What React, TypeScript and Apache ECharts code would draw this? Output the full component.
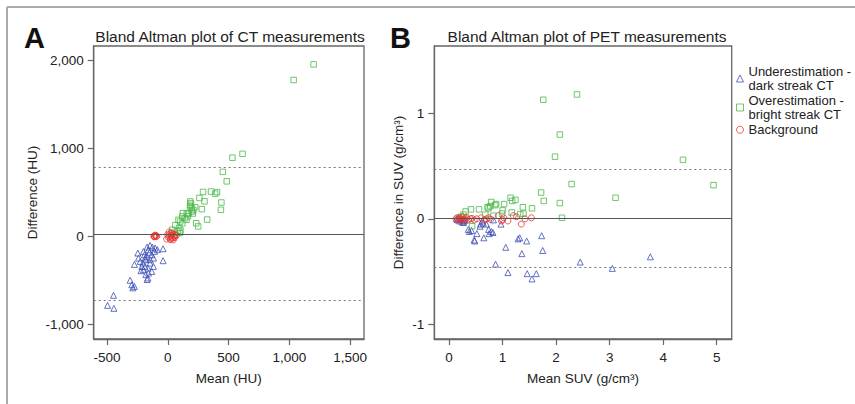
import React, { useEffect, useRef } from "react";
import * as echarts from "echarts";

// ---- Panel A: CT measurements (Mean HU, Difference HU)
const ctUnder: number[][] = [
  [-496, -784], [-447, -670], [-444, -818], [-310, -498], [-296, -549], [-275, -568], [-288, -585],
  [-275, -318], [-247, -189], [-201, -172], [-192, -208], [-181, -265], [-227, -284], [-214, -341],
  [-187, -341], [-164, -360], [-201, -379], [-181, -435], [-164, -473], [-170, -490], [-118, -341],
  [-146, -303], [-160, -151], [-146, -102], [-127, -121], [-104, -132], [-86, -151], [-39, -140],
  [-39, -276], [-118, -246], [-132, -208], [-173, -227], [-186, -246], [-145, -265], [-159, -417],
  [-132, -398], [-221, -390], [-205, -303], [-241, -246], [-150, -180], [-110, -170], [-170, -120],
];
const ctOver: number[][] = [
  [1200, 1958], [1036, 1780], [615, 940], [532, 896], [453, 735], [485, 627], [356, 511], [405, 504],
  [390, 487], [290, 506], [260, 438], [302, 400], [280, 311], [441, 386], [437, 303], [324, 192],
  [234, 150], [250, 114], [185, 398], [190, 379], [183, 341], [198, 322], [173, 265], [206, 261],
  [156, 258], [124, 265], [119, 227], [101, 170], [104, 68], [93, 95], [62, 128], [38, 76],
  [153, 189], [225, 333], [197, 284], [88, 189], [142, 208], [100, 40], [60, 20], [30, 40],
  [185, 360], [210, 300], [165, 230], [120, 150], [80, 60],
];
const ctBg: number[][] = [
  [-115, 5], [-108, 0], [-100, 10], [-95, -3], [-105, 15], [-90, 5], [-112, -5], [10, 50], [20, 30],
  [30, 10], [40, -20], [50, 0], [60, 20], [25, -30], [5, -10], [15, 0], [35, 40], [45, -40],
  [-10, -30], [70, 10], [55, -15], [0, 20], [30, -10], [20, -35], [40, 25],
];
const ctMean = 27;
const ctLimits = [784, -731];
const ctXTicks = [-500, 0, 500, 1000, 1500];
const ctYTicks = [-1000, 0, 1000, 2000];

// ---- Panel B: PET measurements (Mean SUV, Difference SUV)
const petUnder: number[][] = [
  [0.14, 0.0], [0.16, -0.01], [0.2, -0.02], [0.22, 0.0], [0.25, -0.03], [0.27, -0.035], [0.28, -0.02],
  [0.3, -0.01], [0.36, -0.1], [0.42, -0.11], [0.38, -0.12], [0.47, -0.2], [0.48, -0.21], [0.52, -0.14],
  [0.58, -0.07], [0.62, -0.02], [0.64, -0.04], [0.59, -0.05], [0.65, -0.18], [0.7, -0.05], [0.74, -0.1],
  [0.75, -0.14], [0.79, -0.12], [0.82, -0.13], [0.83, -0.01], [0.97, -0.05], [0.87, -0.43], [1.06, -0.27],
  [1.1, -0.51], [1.29, -0.19], [1.32, -0.18], [1.36, -0.33], [1.45, -0.21], [1.46, -0.52], [1.55, -0.57],
  [1.63, -0.52], [1.73, -0.16], [1.75, -0.3], [2.45, -0.41], [3.05, -0.47], [3.76, -0.36],
];
const petOver: number[][] = [
  [1.76, 1.13], [2.39, 1.18], [2.07, 0.8], [1.98, 0.59], [4.37, 0.56], [4.94, 0.32], [2.29, 0.33],
  [3.11, 0.2], [1.72, 0.25], [1.77, 0.17], [2.07, 0.15], [2.11, 0.01], [1.15, 0.2], [1.24, 0.18],
  [1.18, 0.17], [1.55, 0.1], [1.38, 0.11], [1.39, 0.05], [1.17, 0.06], [1.03, 0.14], [0.88, 0.14],
  [0.86, 0.13], [0.79, 0.16], [0.77, 0.12], [0.74, 0.1], [1.0, 0.08], [0.99, 0.05], [0.56, 0.09],
  [0.41, 0.09], [0.31, 0.07], [0.27, 0.04], [0.68, 0.04], [0.83, 0.03], [0.43, -0.07], [1.33, 0.045],
  [0.72, 0.11], [0.22, 0.02],
];
const petBg: number[][] = [
  [0.13, 0.0], [0.15, 0.01], [0.17, -0.005], [0.19, 0.0], [0.2, 0.01], [0.22, -0.01], [0.24, 0.0],
  [0.25, 0.02], [0.27, -0.01], [0.3, 0.0], [0.33, 0.01], [0.36, -0.01], [0.4, 0.0], [0.43, 0.005],
  [0.47, -0.01], [0.52, 0.0], [0.6, 0.01], [0.66, -0.01], [0.7, 0.0], [0.74, 0.01], [0.78, -0.005],
  [0.92, 0.03], [1.0, -0.01], [1.02, 0.01], [1.1, -0.02], [1.2, 0.03], [1.26, 0.02], [1.35, -0.05],
  [1.42, 0.0], [1.54, 0.01], [0.98, -0.02],
];
const petMean = 0.006;
const petLimits = [0.47, -0.462];
const petXTicks = [0, 1, 2, 3, 4, 5];
const petYTicks = [-1, 0, 1];

const seriesNames = [
  "Underestimation -\ndark streak CT",
  "Overestimation -\nbright streak CT",
  "Background",
];

const FONT = "'Liberation Sans', Arial, Helvetica, sans-serif";
const BLUE = "#3d4fb5";
const GREEN = "#4cb84a";
const RED = "#e8332e";
const AXIS = "#666";
const TXT = "#222";

const fmt = (v: number) => v.toLocaleString("en-US");

export default function App() {
  const ref = useRef<HTMLDivElement>(null);
  useEffect(() => {
    if (!ref.current) return;
    const chart = echarts.init(ref.current, undefined, { renderer: "svg" });

    const mkX = (grid: number, min: number, max: number, ticks: number[], name: string, format: boolean) => ({
      type: "value",
      gridIndex: grid,
      min,
      max,
      name,
      nameLocation: "middle",
      nameGap: 32,
      nameTextStyle: { fontFamily: FONT, fontSize: 13.5, color: TXT },
      axisLine: { show: true, onZero: false, lineStyle: { color: AXIS, width: 1.3 } },
      axisTick: { show: true, length: 6, customValues: ticks, lineStyle: { color: AXIS, width: 1.2 } },
      axisLabel: {
        customValues: ticks,
        margin: 11,
        fontFamily: FONT,
        fontSize: 13.5,
        color: TXT,
        formatter: (v: number) => (format ? fmt(v) : String(v)),
      },
      splitLine: { show: false },
    });
    const mkY = (grid: number, min: number, max: number, ticks: number[], name: string, gap: number, format: boolean) => ({
      type: "value",
      gridIndex: grid,
      min,
      max,
      name,
      nameLocation: "middle",
      nameGap: gap,
      nameTextStyle: { fontFamily: FONT, fontSize: 13.5, color: TXT },
      axisLine: { show: true, onZero: false, lineStyle: { color: AXIS, width: 1.3 } },
      axisTick: { show: true, length: 6, customValues: ticks, lineStyle: { color: AXIS, width: 1.2 } },
      axisLabel: {
        customValues: ticks,
        margin: 10,
        fontFamily: FONT,
        fontSize: 13.5,
        color: TXT,
        formatter: (v: number) => (format ? fmt(v) : String(v)),
      },
      splitLine: { show: false },
    });

    const markLines = (mean: number, limits: number[]) => ({
      silent: true,
      symbol: ["none", "none"],
      label: { show: false },
      animation: false,
      data: [
        { yAxis: mean, lineStyle: { color: "#555", width: 1.2, type: "solid" } },
        ...limits.map((l) => ({ yAxis: l, lineStyle: { color: "#777", width: 1.2, type: [2, 3] } })),
      ],
    });

    const sc = (name: string, data: number[][], idx: number, symbol: string, color: string, extra?: any) => ({
      type: "scatter",
      name,
      xAxisIndex: idx,
      yAxisIndex: idx,
      data,
      symbol,
      symbolSize: symbol === "rect" ? 5.5 : 6,
      itemStyle: { color: "rgba(255,255,255,0)", borderColor: color, borderWidth: 1 },
      emphasis: { disabled: true },
      ...(extra || {}),
    });

    chart.setOption({
      animation: false,
      backgroundColor: "#fff",
      textStyle: { fontFamily: FONT },
      grid: [
        { left: 93.7, top: 46, width: 270.3, height: 293, show: true, borderColor: AXIS, borderWidth: 1.3, backgroundColor: "transparent" },
        { left: 434.3, top: 46, width: 297.4, height: 293, show: true, borderColor: AXIS, borderWidth: 1.3, backgroundColor: "transparent" },
      ],
      xAxis: [
        mkX(0, -610, 1615, ctXTicks, "Mean (HU)", true),
        mkX(1, -0.275, 5.28, petXTicks, "Mean SUV (g/cm³)", false),
      ],
      yAxis: [
        mkY(0, -1167, 2167, ctYTicks, "Difference (HU)", 54, true),
        mkY(1, -1.14, 1.64, petYTicks, "Difference in SUV (g/cm³)", 29, false),
      ],
      legend: {
        orient: "vertical",
        left: 736,
        top: 65,
        padding: 0,
        itemGap: 2,
        itemWidth: 7,
        itemHeight: 7,
        itemStyle: { borderWidth: 1 },
        textStyle: { fontFamily: FONT, fontSize: 13, color: TXT, lineHeight: 13.5 },
        data: seriesNames,
        selectedMode: false,
      },
      series: [
        sc(seriesNames[0], ctUnder, 0, "triangle", BLUE, { markLine: markLines(ctMean, ctLimits) }),
        sc(seriesNames[1], ctOver, 0, "rect", GREEN),
        sc(seriesNames[2], ctBg, 0, "circle", RED),
        sc(seriesNames[0], petUnder, 1, "triangle", BLUE, { markLine: markLines(petMean, petLimits) }),
        sc(seriesNames[1], petOver, 1, "rect", GREEN),
        sc(seriesNames[2], petBg, 1, "circle", RED),
      ],
      graphic: [
        { type: "line", shape: { x1: 7, y1: 7, x2: 855, y2: 7 }, style: { stroke: "#aaa", lineWidth: 2 }, silent: true },
        { type: "line", shape: { x1: 7, y1: 7, x2: 7, y2: 404 }, style: { stroke: "#aaa", lineWidth: 2 }, silent: true },
        { type: "text", x: 24, y: 38, style: { text: "A", fontFamily: FONT, fontSize: 29, fontWeight: "bold", fill: "#111", textVerticalAlign: "middle" } },
        { type: "text", x: 390, y: 38, style: { text: "B", fontFamily: FONT, fontSize: 29, fontWeight: "bold", fill: "#111", textVerticalAlign: "middle" } },
        { type: "text", x: 230, y: 36, style: { text: "Bland Altman plot of CT measurements", fontFamily: FONT, fontSize: 15.5, fill: TXT, textAlign: "center", textVerticalAlign: "middle" } },
        { type: "text", x: 587, y: 36, style: { text: "Bland Altman plot of PET measurements", fontFamily: FONT, fontSize: 15.5, fill: TXT, textAlign: "center", textVerticalAlign: "middle" } },
      ],
    });
    return () => chart.dispose();
  }, []);
  return <div ref={ref} style={{ width: 855, height: 404, position: "absolute", left: 0, top: 0 }} />;
}
